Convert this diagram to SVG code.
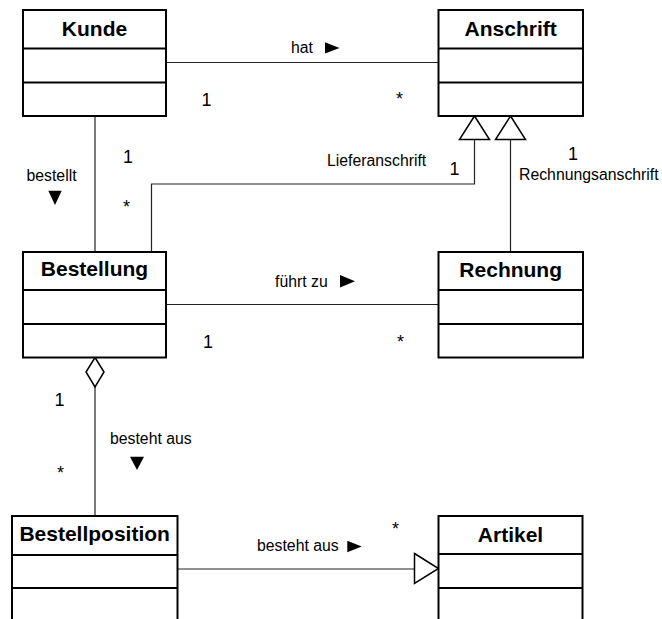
<svg xmlns="http://www.w3.org/2000/svg" width="662" height="619" viewBox="0 0 662 619">
  <style>
    .box { fill: #fff; stroke: #000; stroke-width: 2; }
    .div { stroke: #000; stroke-width: 2; }
    .title { font-family: "Liberation Sans", Arial, sans-serif; font-size: 21px; font-weight: bold; text-anchor: middle; fill: #000; }
    .lbl { font-family: "Liberation Sans", Arial, sans-serif; font-size: 15.8px; fill: #000; }
    .mult { font-family: "Liberation Sans", Arial, sans-serif; font-size: 18px; fill: #000; }
    .line { fill: none; stroke: #222; stroke-width: 1.2; }
    .head { fill: #fff; stroke: #000; stroke-width: 1.5; stroke-linejoin: miter; }
    .dir { fill: #000; }
  </style>
  <rect width="662" height="619" fill="#fff"/>

  <!-- connectors -->
  <g id="connectors">
    <line class="line" x1="166" y1="62.5" x2="438.5" y2="62.5"/>
    <line class="line" x1="95" y1="116" x2="95" y2="252"/>
    <polyline class="line" points="151.5,252 151.5,184 474.5,184 474.5,139.5"/>
    <polygon class="head" points="459.5,139.5 489.5,139.5 474.5,116"/>
    <line class="line" x1="510.5" y1="252" x2="510.5" y2="139.5"/>
    <polygon class="head" points="495.5,139.5 525.5,139.5 510.5,116"/>
    <line class="line" x1="166" y1="304.5" x2="438.5" y2="304.5"/>
    <line class="line" x1="95" y1="387" x2="95" y2="516"/>
    <polygon class="head" points="95,357.5 104,372 95,387 86,372"/>
    <line class="line" x1="177.5" y1="569" x2="414.5" y2="569"/>
    <polygon class="head" points="414.5,553.5 438.5,568.5 414.5,583.5"/>

    <!-- association labels -->
    <text class="lbl" x="291" y="52.7">hat</text>
    <polygon class="dir" points="325,42.3 339.5,48 325,53.5"/>
    <text class="lbl" x="26.5" y="180.7">bestellt</text>
    <polygon class="dir" points="48.3,190.7 61.7,190.7 55,205"/>
    <text class="lbl" x="327" y="166">Lieferanschrift</text>
    <text class="lbl" x="519" y="180">Rechnungsanschrift</text>
    <text class="lbl" x="275" y="286.7">führt zu</text>
    <polygon class="dir" points="340,275 355,281.2 340,287.4"/>
    <text class="lbl" x="110" y="444.3">besteht aus</text>
    <polygon class="dir" points="130,456.7 144,456.7 137,470"/>
    <text class="lbl" x="257" y="550.7">besteht aus</text>
    <polygon class="dir" points="347.3,540.7 361.7,546.5 347.3,552.3"/>

    <!-- multiplicities -->
    <text class="mult" x="201.5" y="106">1</text>
    <text class="mult" x="396" y="105">*</text>
    <text class="mult" x="123" y="162.7">1</text>
    <text class="mult" x="123" y="213">*</text>
    <text class="mult" x="449.5" y="175">1</text>
    <text class="mult" x="568" y="160">1</text>
    <text class="mult" x="203" y="348.3">1</text>
    <text class="mult" x="397" y="348">*</text>
    <text class="mult" x="54.5" y="406">1</text>
    <text class="mult" x="57" y="479">*</text>
    <text class="mult" x="392" y="534.5">*</text>
  </g>

  <!-- classes -->
  <g id="kunde">
    <rect class="box" x="23" y="10" width="143" height="106"/>
    <line class="div" x1="23" y1="48.5" x2="166" y2="48.5"/>
    <line class="div" x1="23" y1="82.5" x2="166" y2="82.5"/>
    <text class="title" x="94.5" y="36">Kunde</text>
  </g>
  <g id="anschrift">
    <rect class="box" x="438.5" y="10" width="144.5" height="106"/>
    <line class="div" x1="438.5" y1="48.5" x2="583" y2="48.5"/>
    <line class="div" x1="438.5" y1="82.5" x2="583" y2="82.5"/>
    <text class="title" x="510.7" y="36">Anschrift</text>
  </g>
  <g id="bestellung">
    <rect class="box" x="23" y="252" width="143" height="105.5"/>
    <line class="div" x1="23" y1="290" x2="166" y2="290"/>
    <line class="div" x1="23" y1="324" x2="166" y2="324"/>
    <text class="title" x="94.5" y="276">Bestellung</text>
  </g>
  <g id="rechnung">
    <rect class="box" x="438.5" y="252" width="144.5" height="105.5"/>
    <line class="div" x1="438.5" y1="290" x2="583" y2="290"/>
    <line class="div" x1="438.5" y1="324" x2="583" y2="324"/>
    <text class="title" x="510.7" y="276.5">Rechnung</text>
  </g>
  <g id="bestellposition">
    <rect class="box" x="12" y="516" width="165.5" height="130"/>
    <line class="div" x1="12" y1="555" x2="177.5" y2="555"/>
    <line class="div" x1="12" y1="588" x2="177.5" y2="588"/>
    <text class="title" x="94.7" y="540.7">Bestellposition</text>
  </g>
  <g id="artikel">
    <rect class="box" x="438.5" y="516" width="144" height="130"/>
    <line class="div" x1="438.5" y1="554" x2="582.5" y2="554"/>
    <line class="div" x1="438.5" y1="588" x2="582.5" y2="588"/>
    <text class="title" x="510.5" y="541.5">Artikel</text>
  </g>
</svg>
